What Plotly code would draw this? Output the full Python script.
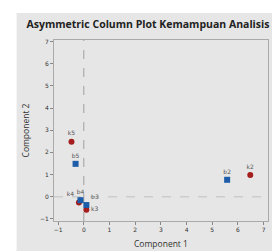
import plotly.graph_objects as go

row_labels = ["k5", "k4", "k3", "k2"]
row_x = [-0.48, -0.19, 0.10, 6.48]
row_y = [2.48, -0.26, -0.59, 0.98]

col_labels = ["b5", "b4", "b3", "b2"]
col_x = [-0.32, -0.13, 0.10, 5.58]
col_y = [1.48, -0.16, -0.38, 0.76]

xticks = [-1, 0, 1, 2, 3, 4, 5, 6, 7]
yticks = [-1, 0, 1, 2, 3, 4, 5, 6, 7]

W, H = 280, 251
fig = go.Figure()
fig.add_trace(go.Scatter(x=row_x, y=row_y, mode="markers+text", text=row_labels,
                         textposition=["top center", "top left", "middle right", "top center"],
                         textfont=dict(size=6, color="#555555", family="DejaVu Sans"),
                         marker=dict(symbol="circle", size=6, color="#a51d1d"),
                         showlegend=False, cliponaxis=False))
fig.add_trace(go.Scatter(x=col_x, y=col_y, mode="markers+text", text=col_labels,
                         textposition=["top center", "top center", "top right", "top center"],
                         textfont=dict(size=6, color="#555555", family="DejaVu Sans"),
                         marker=dict(symbol="square", size=6, color="#1c5ca8"),
                         showlegend=False, cliponaxis=False))

fig.add_shape(type="rect", xref="paper", yref="paper",
              x0=(8 - 45.5) / (260 - 45.5), x1=(W - 45.5) / (260 - 45.5),
              y0=-(251 - 217.3) / (217.3 - 31.7), y1=(217.3 - 4) / (217.3 - 31.7),
              fillcolor="#e6e6e6", line=dict(width=0), layer="below")
fig.add_shape(type="line", x0=0, x1=0, yref="paper", y0=0, y1=1,
              line=dict(color="#a0a0a0", width=1, dash="dash"), layer="below")
fig.add_shape(type="line", y0=0, y1=0, xref="paper", x0=0, x1=1,
              line=dict(color="#cccccc", width=1.5, dash="dash"), layer="below")

fig.update_layout(
    width=W, height=H,
    margin=dict(l=45.5, r=20, t=31.7, b=33.7),
    paper_bgcolor="white", plot_bgcolor="white",
    title=dict(text="<b>Asymmetric Column Plot Kemampuan Analisis</b>", x=0.5, xref="container",
               xanchor="center", y=1 - 16 / H, yanchor="middle",
               font=dict(size=10.5, color="#222222", family="Open Sans")),
    font=dict(family="DejaVu Sans", color="#333333"),
)
fig.update_xaxes(range=[-1.16, 7.17], tickvals=xticks, ticks="outside", ticklen=3,
                 tickcolor="#888888", tickfont=dict(size=6, color="#333333"),
                 showgrid=False, zeroline=False, showline=True, linecolor="#aaaaaa",
                 mirror=True,
                 title=dict(text="Component 1", font=dict(size=8.5, color="#333333", family="Open Sans"), standoff=8))
fig.update_yaxes(range=[-1.1, 7.07], tickvals=yticks, ticks="outside", ticklen=3,
                 tickcolor="#888888", tickfont=dict(size=6, color="#333333"),
                 showgrid=False, zeroline=False, showline=True, linecolor="#aaaaaa",
                 mirror=True,
                 title=dict(text="Component 2", font=dict(size=8.5, color="#333333", family="Open Sans"), standoff=8))

fig.write_html("out.html")
